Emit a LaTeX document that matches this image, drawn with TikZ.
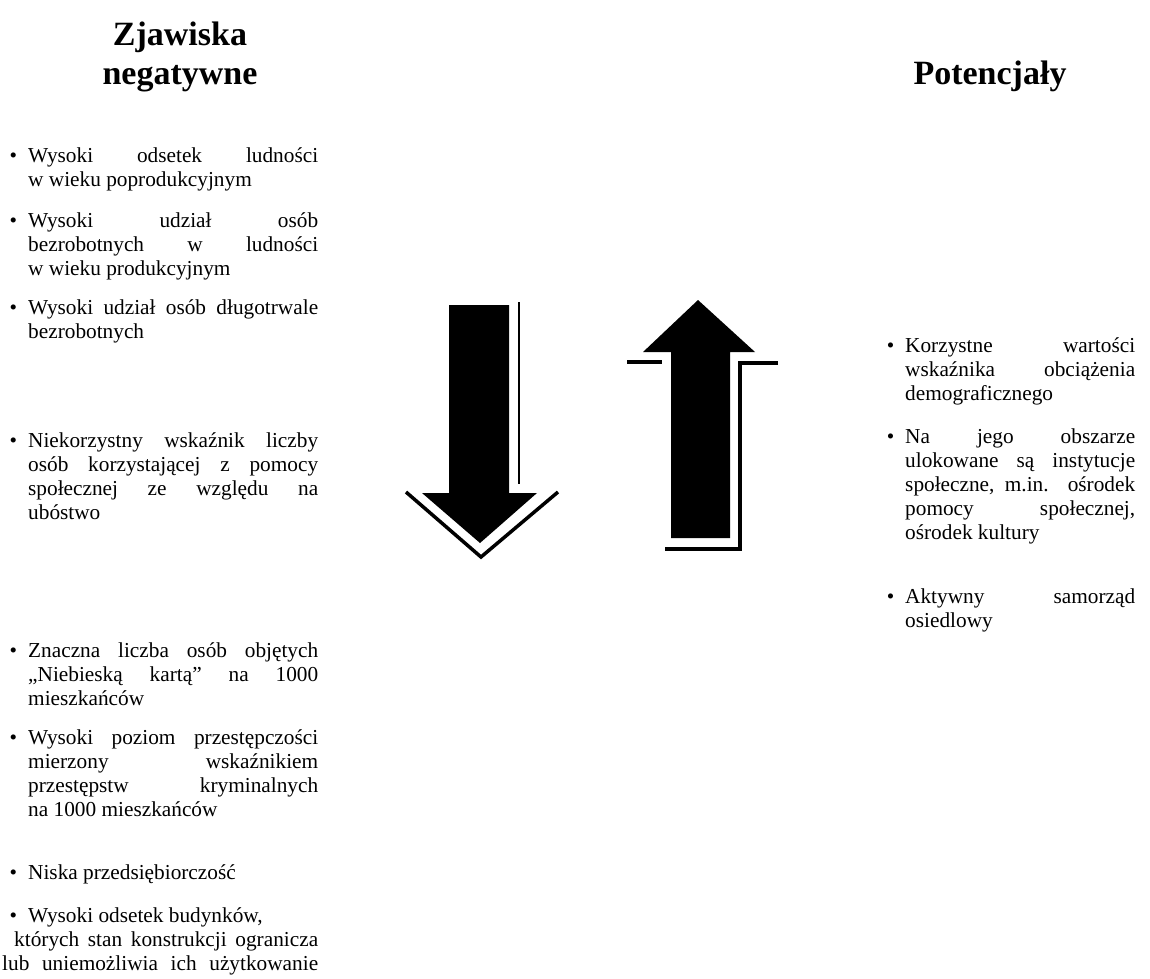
\documentclass[tikz,border=0pt]{standalone}
\usepackage{fontspec}
\setmainfont{Liberation Serif}
\newcommand{\jl}[2][290pt]{\makebox[#1][s]{\spaceskip=0pt\xspaceskip=0pt #2}}
\newcommand{\jr}[1]{\makebox[230pt][s]{\spaceskip=0pt\xspaceskip=0pt #1}}
\newcommand{\bul}{\makebox[0pt][r]{\textbullet\hspace{11pt}}}
\tikzset{
  txt/.style={anchor=base west, inner sep=0pt, font=\fontsize{21.3}{24}\selectfont, align=flush left, text width=290pt},
  rtxt/.style={txt, text width=230pt},
  ttl/.style={anchor=base, inner sep=0pt, font=\fontsize{34}{39}\selectfont\bfseries, align=center, text width=300pt},
  arrowfill/.style={fill=black, draw=none},
  outl/.style={draw=black, line width=3.5pt},
  outlthin/.style={draw=black, line width=2.5pt}
}
\begin{document}
\begin{tikzpicture}[x=1pt,y=-1pt]
\useasboundingbox (0,0) rectangle (1150,978);
\fill[white] (0,0) rectangle (1150,978);
% titles
\node[ttl] (tneg) at (180,45) {Zjawiska\\negatywne};
\node[ttl] (tpot) at (990,84) {Potencjały};
% left column
\node[txt] (n1) at (28,162) {\bul\jl{Wysoki odsetek ludności}\\w wieku poprodukcyjnym};
\node[txt] (n2) at (28,227) {\bul\jl{Wysoki udział osób}\\\jl{bezrobotnych w ludności}\\w wieku produkcyjnym};
\node[txt] (n3) at (28,314) {\bul\jl{Wysoki udział osób długotrwale}\\bezrobotnych};
\node[txt] (n4) at (28,447) {\bul\jl{Niekorzystny wskaźnik liczby}\\\jl{osób korzystającej z pomocy}\\\jl{społecznej ze względu na}\\ubóstwo};
\node[txt] (n5) at (28,657) {\bul\jl{Znaczna liczba osób objętych}\\\jl{„Niebieską kartą” na 1000}\\mieszkańców};
\node[txt] (n6) at (28,744) {\bul\jl{Wysoki poziom przestępczości}\\\jl{mierzony wskaźnikiem}\\\jl{przestępstw kryminalnych}\\na 1000 mieszkańców};
\node[txt] (n7) at (28,879) {\bul Niska przedsiębiorczość};
\node[txt, text width=316pt] (n8) at (2,922) {\hspace*{26pt}\bul Wysoki odsetek budynków,\\\hspace*{12pt}\jl[304pt]{których stan konstrukcji ogranicza}\\\jl[316pt]{lub uniemożliwia ich użytkowanie}};
% right column
\node[rtxt] (p1) at (905,352) {\bul\jr{Korzystne wartości}\\\jr{wskaźnika obciążenia}\\demograficznego};
\node[rtxt] (p2) at (905,443) {\bul\jr{Na jego obszarze}\\\jr{ulokowane są instytucje}\\\jr{społeczne, m.in. ośrodek}\\\jr{pomocy społecznej,}\\ośrodek kultury};
\node[rtxt] (p3) at (905,603) {\bul\jr{Aktywny samorząd}\\osiedlowy};
% down arrow
\draw[outlthin] (519,302) -- (519,484);
\draw[outl] (406,492) -- (481,557) -- (558,492);
\fill[arrowfill] (449,305) -- (509,305) -- (509,493) -- (537,493) -- (480,543) -- (422,493) -- (449,493) -- cycle;
% up arrow
\draw[outl] (627,362) -- (662,362);
\draw[outl] (778,363) -- (740,363) -- (740,549) -- (665,549);
\fill[arrowfill] (698,300) -- (755,352) -- (730,352) -- (730,538) -- (671,538) -- (671,352) -- (643,352) -- cycle;
\end{tikzpicture}
\end{document}
